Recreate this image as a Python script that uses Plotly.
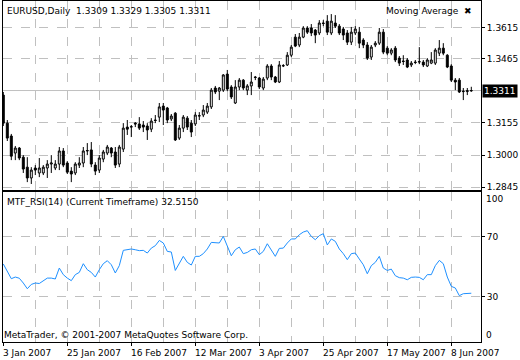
import plotly.graph_objects as go

# ---------------- data (EURUSD daily, 3 Jan 2007 .. 15 Jun 2007) ----------------
open_ = [1.3289, 1.3154, 1.3092, 1.3010, 1.3034, 1.2990, 1.2942, 1.2890, 1.2938, 1.2914,
         1.2914, 1.2938, 1.2957, 1.2938, 1.2957, 1.3020, 1.2962, 1.2923, 1.2914, 1.2952,
         1.2962, 1.3020, 1.3025, 1.2952, 1.2928, 1.2981, 1.3010, 1.3034, 1.3015, 1.2957,
         1.3029, 1.3135, 1.3135, 1.3154, 1.3150, 1.3145, 1.3140, 1.3125, 1.3169, 1.3183,
         1.3236, 1.3227, 1.3174, 1.3202, 1.3082, 1.3130, 1.3178, 1.3154, 1.3150, 1.3188,
         1.3193, 1.3207, 1.3232, 1.3323, 1.3308, 1.3313, 1.3390, 1.3328, 1.3251, 1.3328,
         1.3361, 1.3313, 1.3333, 1.3376, 1.3371, 1.3323, 1.3371, 1.3429, 1.3376, 1.3352,
         1.3429, 1.3434, 1.3481, 1.3568, 1.3530, 1.3568, 1.3612, 1.3612, 1.3602, 1.3588,
         1.3636, 1.3645, 1.3588, 1.3636, 1.3621, 1.3607, 1.3588, 1.3544, 1.3588, 1.3592,
         1.3554, 1.3530, 1.3472, 1.3530, 1.3539, 1.3592, 1.3515, 1.3491, 1.3515, 1.3467,
         1.3453, 1.3458, 1.3434, 1.3448, 1.3448, 1.3448, 1.3429, 1.3443, 1.3443, 1.3491,
         1.3515, 1.3481, 1.3429, 1.3361, 1.3361, 1.3308, 1.3306, 1.3309]
high = [1.3304, 1.3169, 1.3102, 1.3044, 1.3039, 1.3000, 1.2990, 1.2942, 1.2952, 1.2986,
        1.2952, 1.2976, 1.3000, 1.2976, 1.3039, 1.3034, 1.2971, 1.2942, 1.2966, 1.2990,
        1.3039, 1.3058, 1.3063, 1.2966, 1.3000, 1.3025, 1.3049, 1.3039, 1.3039, 1.3049,
        1.3154, 1.3169, 1.3145, 1.3159, 1.3183, 1.3164, 1.3154, 1.3178, 1.3193, 1.3251,
        1.3251, 1.3232, 1.3198, 1.3207, 1.3145, 1.3193, 1.3188, 1.3169, 1.3207, 1.3207,
        1.3241, 1.3251, 1.3323, 1.3333, 1.3328, 1.3390, 1.3410, 1.3337, 1.3361, 1.3371,
        1.3366, 1.3342, 1.3400, 1.3381, 1.3376, 1.3376, 1.3438, 1.3438, 1.3381, 1.3453,
        1.3438, 1.3496, 1.3530, 1.3583, 1.3588, 1.3621, 1.3621, 1.3631, 1.3607, 1.3650,
        1.3650, 1.3674, 1.3679, 1.3674, 1.3631, 1.3617, 1.3602, 1.3617, 1.3621, 1.3617,
        1.3563, 1.3544, 1.3530, 1.3549, 1.3612, 1.3607, 1.3525, 1.3515, 1.3525, 1.3477,
        1.3481, 1.3467, 1.3453, 1.3458, 1.3520, 1.3458, 1.3467, 1.3496, 1.3515, 1.3554,
        1.3539, 1.3486, 1.3438, 1.3371, 1.3371, 1.3323, 1.3323, 1.3329]
low = [1.3140, 1.3068, 1.2976, 1.2976, 1.2976, 1.2914, 1.2870, 1.2861, 1.2904, 1.2894,
       1.2904, 1.2890, 1.2914, 1.2928, 1.2928, 1.2942, 1.2909, 1.2870, 1.2904, 1.2938,
       1.2942, 1.3000, 1.2942, 1.2904, 1.2914, 1.2966, 1.3000, 1.2990, 1.2938, 1.2942,
       1.3015, 1.3097, 1.3087, 1.3135, 1.3121, 1.3111, 1.3073, 1.3111, 1.3154, 1.3159,
       1.3145, 1.3154, 1.3164, 1.3068, 1.3073, 1.3111, 1.3121, 1.3087, 1.3140, 1.3169,
       1.3183, 1.3198, 1.3222, 1.3294, 1.3265, 1.3304, 1.3308, 1.3270, 1.3246, 1.3313,
       1.3313, 1.3289, 1.3289, 1.3361, 1.3318, 1.3313, 1.3361, 1.3361, 1.3347, 1.3347,
       1.3424, 1.3429, 1.3472, 1.3520, 1.3520, 1.3563, 1.3583, 1.3573, 1.3539, 1.3578,
       1.3621, 1.3578, 1.3578, 1.3612, 1.3578, 1.3554, 1.3530, 1.3530, 1.3578, 1.3515,
       1.3515, 1.3458, 1.3458, 1.3520, 1.3530, 1.3486, 1.3481, 1.3481, 1.3448, 1.3429,
       1.3434, 1.3419, 1.3424, 1.3438, 1.3438, 1.3424, 1.3424, 1.3438, 1.3434, 1.3477,
       1.3481, 1.3419, 1.3352, 1.3313, 1.3299, 1.3265, 1.3289, 1.3305]
close = [1.3154, 1.3082, 1.2995, 1.3034, 1.2986, 1.2933, 1.2890, 1.2928, 1.2928, 1.2938,
         1.2942, 1.2957, 1.2962, 1.2957, 1.3020, 1.2952, 1.2918, 1.2909, 1.2957, 1.2962,
         1.3020, 1.3022, 1.2957, 1.2923, 1.2986, 1.3015, 1.3039, 1.3010, 1.2952, 1.3039,
         1.3130, 1.3125, 1.3137, 1.3150, 1.3130, 1.3135, 1.3121, 1.3164, 1.3167, 1.3232,
         1.3217, 1.3169, 1.3188, 1.3073, 1.3130, 1.3183, 1.3135, 1.3111, 1.3193, 1.3190,
         1.3217, 1.3236, 1.3313, 1.3304, 1.3323, 1.3386, 1.3318, 1.3280, 1.3328, 1.3361,
         1.3323, 1.3333, 1.3352, 1.3374, 1.3328, 1.3366, 1.3429, 1.3376, 1.3352, 1.3434,
         1.3431, 1.3481, 1.3520, 1.3525, 1.3568, 1.3612, 1.3592, 1.3588, 1.3578, 1.3636,
         1.3634, 1.3592, 1.3645, 1.3621, 1.3588, 1.3578, 1.3544, 1.3592, 1.3607, 1.3539,
         1.3530, 1.3467, 1.3520, 1.3539, 1.3592, 1.3496, 1.3491, 1.3506, 1.3458, 1.3443,
         1.3451, 1.3424, 1.3443, 1.3446, 1.3450, 1.3434, 1.3458, 1.3458, 1.3506, 1.3515,
         1.3491, 1.3424, 1.3361, 1.3352, 1.3304, 1.3306, 1.3310, 1.3311]
rsi = [52.0, 47.0, 42.2, 43.3, 42.5, 39.3, 35.5, 38.4, 39.3, 39.0,
       41.0, 42.6, 42.6, 42.0, 49.3, 44.9, 42.6, 40.9, 44.9, 46.4,
       52.2, 48.2, 46.4, 43.3, 48.2, 52.2, 54.2, 51.5, 46.0, 50.9,
       61.1, 61.5, 62.0, 61.5, 60.9, 61.1, 59.3, 62.6, 64.2, 67.7,
       66.0, 60.4, 60.0, 47.7, 52.2, 57.1, 53.1, 51.3, 57.1, 57.1,
       58.9, 62.0, 66.4, 66.4, 66.0, 70.4, 63.3, 57.5, 61.5, 63.3,
       58.9, 59.7, 61.5, 62.0, 58.2, 60.4, 65.5, 61.5, 57.1, 62.4,
       62.6, 66.0, 68.7, 68.7, 71.5, 73.3, 74.2, 70.4, 68.2, 70.9,
       72.2, 64.7, 68.7, 67.1, 62.0, 58.9, 54.9, 58.9, 59.3, 55.3,
       51.5, 45.5, 50.9, 53.1, 57.1, 49.3, 47.7, 48.6, 44.2, 42.9,
       42.6, 41.5, 43.1, 43.3, 43.1, 41.5, 44.9, 44.9, 50.9, 54.4,
       52.2, 43.3, 37.1, 36.0, 30.9, 32.2, 32.2, 32.5]

date_labels = ["3 Jan 2007", "25 Jan 2007", "16 Feb 2007", "12 Mar 2007",
               "3 Apr 2007", "25 Apr 2007", "17 May 2007", "8 Jun 2007"]
date_label_bars = [0, 16, 32, 48, 64, 80, 96, 112]
grid_bars_minor = [8, 24, 40, 56, 72, 88, 104]
price_ticks = [1.3615, 1.3465, 1.3155, 1.3000, 1.2845]
price_ticktext = ["1.3615", "1.3465", "1.3155", "1.3000", "1.2845"]
rsi_ticks = [30, 70]
last_price = 1.3311

bars = list(range(len(open_)))

FONT = "DejaVu Sans"
GRID = "#C0C0C0"
XRANGE = [-0.075, 119.425]

fig = go.Figure()
fig.add_trace(go.Candlestick(
    x=bars, open=open_, high=high, low=low, close=close,
    increasing=dict(line=dict(color="black", width=1), fillcolor="white"),
    decreasing=dict(line=dict(color="black", width=1), fillcolor="black"),
    whiskerwidth=0, xaxis="x", yaxis="y", showlegend=False, hoverinfo="skip"))
fig.add_trace(go.Scatter(
    x=bars, y=rsi, mode="lines", line=dict(color="#1E90FF", width=1),
    xaxis="x2", yaxis="y2", showlegend=False, hoverinfo="skip"))


def xaxis_style(**kw):
    d = dict(range=XRANGE, tickmode="array", tickvals=date_label_bars,
             showgrid=True, gridcolor=GRID, griddash="dash", gridwidth=1,
             minor=dict(tickvals=grid_bars_minor, showgrid=True, gridcolor=GRID,
                        griddash="dash", gridwidth=1, ticks=""),
             showline=True, linecolor="black", linewidth=1, mirror=True,
             zeroline=False, fixedrange=True)
    d.update(kw)
    return d


fig.update_layout(
    width=520, height=360, autosize=False,
    margin=dict(l=3, r=39, t=1, b=18, pad=0),
    paper_bgcolor="white", plot_bgcolor="white",
    font=dict(family=FONT, size=9, color="black"),
    showlegend=False,
    xaxis=xaxis_style(domain=[0, 1], anchor="y", showticklabels=False, ticks="",
                      rangeslider=dict(visible=False)),
    xaxis2=xaxis_style(domain=[0, 1], anchor="y2", ticks="outside", ticklen=3,
                       tickcolor="black", showticklabels=False),
    yaxis=dict(domain=[0.4457, 1], range=[1.2832, 1.3742], side="right",
               tickmode="array", tickvals=price_ticks, ticktext=price_ticktext,
               ticks="outside", ticklen=3, tickcolor="black",
               showgrid=True, gridcolor=GRID, griddash="dash",
               showline=True, linecolor="black", mirror=True, zeroline=False,
               fixedrange=True, tickfont=dict(family=FONT, size=9, color="black")),
    yaxis2=dict(domain=[0, 0.4399], range=[0, 100], side="right",
                tickmode="array", tickvals=rsi_ticks,
                ticks="outside", ticklen=3, tickcolor="black",
                showgrid=True, gridcolor=GRID, griddash="dash",
                showline=True, linecolor="black", mirror=True, zeroline=False,
                fixedrange=True, tickfont=dict(family=FONT, size=9, color="black")),
)

# current price line
fig.add_shape(type="line", xref="x", x0=XRANGE[0], x1=XRANGE[1], yref="y",
              y0=last_price, y1=last_price, line=dict(color=GRID, width=1),
              layer="below")

ann = []
# date labels, left-aligned at their tick like MetaTrader
for b, lab in zip(date_label_bars, date_labels):
    ann.append(dict(text=lab, xref="x2", x=b, xanchor="left", xshift=-2,
                    yref="paper", y=0, yanchor="top", yshift=-4, showarrow=False,
                    font=dict(size=9, family=FONT)))
ann.append(dict(text=f"{last_price:.4f}", xref="paper", x=1, xanchor="left", xshift=1,
                yref="y", y=last_price, yanchor="middle", showarrow=False,
                bgcolor="black", borderpad=1, font=dict(color="white", size=9, family=FONT)))
ann.append(dict(text="EURUSD,Daily  1.3309 1.3329 1.3305 1.3311", xref="paper", x=0,
                xanchor="left", xshift=2, yref="paper", y=1, yanchor="top", yshift=-3,
                showarrow=False, font=dict(size=9, family=FONT)))
ann.append(dict(text="Moving Average  <b>✖</b>", xref="paper", x=1, xanchor="right",
                xshift=-7, yref="paper", y=1, yanchor="top", yshift=-3,
                showarrow=False, font=dict(size=9, family=FONT)))
ann.append(dict(text="MTF_RSI(14) (Current Timeframe) 32.5150", xref="paper", x=0,
                xanchor="left", xshift=2, yref="paper", y=0.4399, yanchor="top",
                yshift=-3, showarrow=False, font=dict(size=9, family=FONT)))
ann.append(dict(text="MetaTrader, © 2001-2007 MetaQuotes Software Corp.", xref="paper",
                x=0, xanchor="left", xshift=-1, yref="paper", y=0, yanchor="bottom",
                yshift=0, showarrow=False, font=dict(size=9, family=FONT)))
ann.append(dict(text="100", xref="paper", x=1, xanchor="left", xshift=3,
                yref="y2", y=100, yanchor="top", showarrow=False,
                font=dict(size=9, family=FONT)))
ann.append(dict(text="0", xref="paper", x=1, xanchor="left", xshift=3,
                yref="y2", y=0, yanchor="bottom", showarrow=False,
                font=dict(size=9, family=FONT)))
fig.update_layout(annotations=ann)

fig.write_html(
    "out.html",
    config={"displayModeBar": False, "staticPlot": True},
    post_script="document.body.style.margin='0';document.body.style.overflow='hidden';",
)
